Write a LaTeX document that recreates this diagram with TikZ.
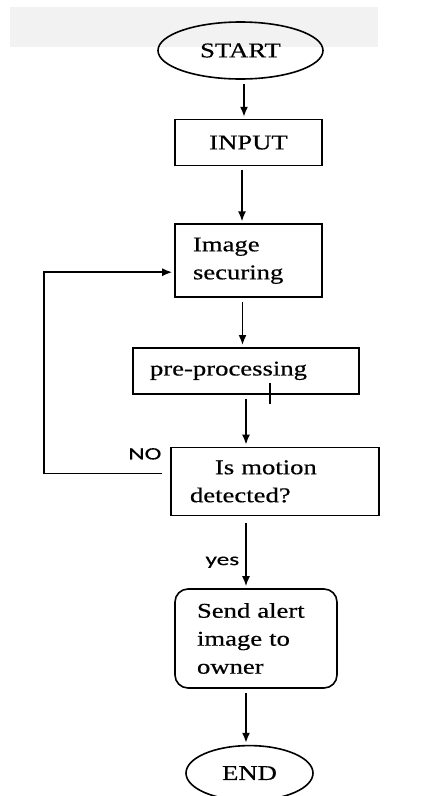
\documentclass[tikz,border=0pt]{standalone}
\usepackage{fontspec}
\setmainfont[FakeStretch=1.27,FakeBold=0.5]{Liberation Serif}
\newfontfamily\lblfont[FakeStretch=1.45,FakeBold=0.3]{Carlito}
\usetikzlibrary{positioning,shapes.geometric,arrows.meta}

\begin{document}
\begin{tikzpicture}[x=1pt,y=-1pt,
  flow/.style={-{Latex[length=10pt,width=8pt]},line width=1.6pt,shorten <=4pt,shorten >=2pt},
  lbl/.style={font=\lblfont\fontsize{17.5}{20}\selectfont,inner sep=0pt}]
  \useasboundingbox (0,0) rectangle (438,796);
  \fill[black!5] (10,7) rectangle (378,47);
\begin{scope}[every node/.style={draw,line width=1.6pt,font=\fontsize{21}{28}\selectfont,inner sep=0pt}]
  \node[ellipse,minimum width=165pt,minimum height=57pt] (start) at (240.5,50.5) {START};
  \node[below=39pt of start,xshift=8pt,minimum width=147pt,minimum height=46pt] (input) {INPUT};
  \node[below=57pt of input,minimum width=147pt,minimum height=73pt,text width=111pt,align=left] (image) {Image\\securing};
  \node[below=49pt of image,xshift=-2.5pt,minimum width=226pt,minimum height=46pt,text width=192pt,align=left] (pre) {pre-processing};
  \node[below=52pt of pre,xshift=29pt,minimum width=208pt,minimum height=68pt,text width=170pt,align=left] (motion) {\hspace*{25pt}Is motion\\detected?};
  \node[below=72pt of motion,xshift=-19pt,rounded corners=13pt,minimum width=162pt,minimum height=99pt,text width=118pt,align=left] (send) {Send alert\\image to\\owner};
  \node[below=56pt of send,xshift=-6.5pt,ellipse,minimum width=127pt,minimum height=55pt] (end) {END};
\end{scope}

  \foreach \a/\b/\d in {start/input/3.5,input/image/-6.5,image/pre/-6,pre/motion/0,send/end/-10} {
    \draw[flow] ([xshift=\d pt]\a.south) coordinate (top) -- (top |- \b.north);
  }
  \draw[flow,shorten <=7pt] ([xshift=-29pt]motion.south) coordinate (m) -- (m |- send.north)
    node[lbl,pos=0.64,anchor=east,xshift=-6pt] {yes};
  % no motion: back to capturing
  \draw[flow,shorten <=0pt] ([xshift=-8pt,yshift=8pt]motion.west) node[lbl,anchor=south east,yshift=13pt] {NO}
    -- ++(-118,0) |- ([yshift=-11.5pt]image.west);
  \draw[line width=1.3pt] ([xshift=24pt,yshift=12pt]pre.south) -- ++(0,21);
\end{tikzpicture}
\end{document}
